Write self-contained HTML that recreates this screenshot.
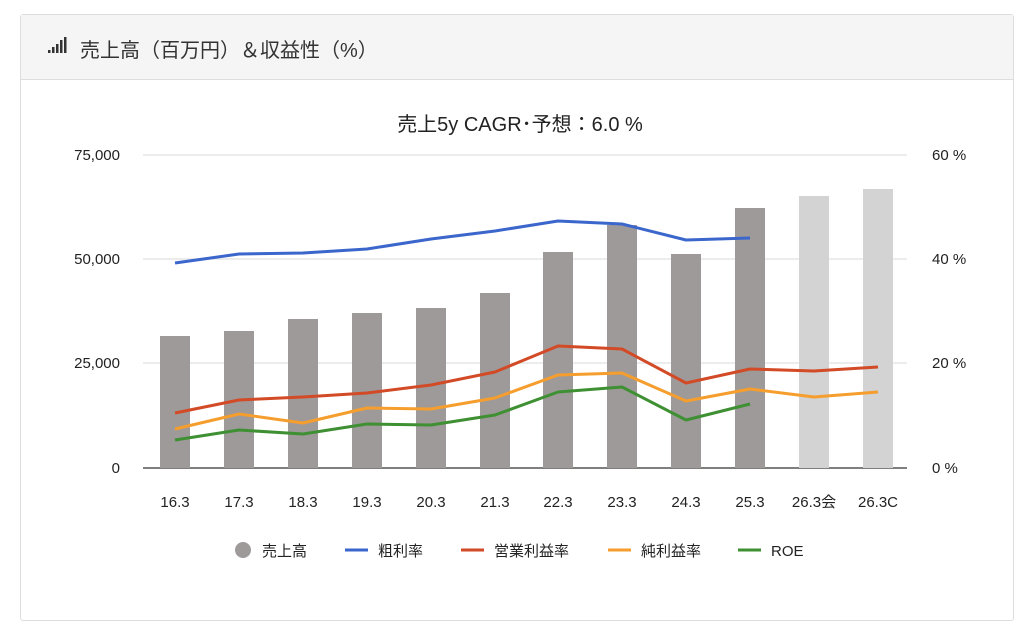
<!DOCTYPE html>
<html><head><meta charset="utf-8"><style>
body{margin:0;width:1024px;height:628px;background:#fff;font-family:"Liberation Sans","Noto Sans CJK JP",sans-serif;overflow:hidden}
.card{position:absolute;left:20px;top:14px;width:994px;height:607px;border:1px solid #ddd;border-radius:3px;box-sizing:border-box}
.hdr{height:64px;background:#f5f5f5;border-bottom:1px solid #ddd;}
.hdr span{position:absolute;left:59px;top:19px;font-size:20px;color:#333}
</style></head><body>
<div class="card"><div class="hdr"><span>売上高（百万円）＆収益性（%）</span></div></div>
<svg width="1024" height="628" style="position:absolute;left:0;top:0">
<g fill="#333"><rect x="48" y="50" width="2.5" height="3"/><rect x="52" y="47" width="2.5" height="6"/><rect x="56" y="44" width="2.5" height="9"/><rect x="60" y="40" width="2.5" height="13"/><rect x="64" y="37" width="2.5" height="16"/></g>
<text x="520" y="131" text-anchor="middle" font-size="20" fill="#222">売上5y CAGR･予想：6.0 %</text>
<g stroke="#e6e6e6" stroke-width="1.5"><line x1="143" y1="155" x2="907" y2="155"/><line x1="143" y1="259" x2="907" y2="259"/><line x1="143" y1="363" x2="907" y2="363"/></g>
<line x1="143" y1="468" x2="907" y2="468" stroke="#333" stroke-width="1.2"/>
<g font-size="15" fill="#222" text-anchor="end"><text x="120" y="160">75,000</text><text x="120" y="264">50,000</text><text x="120" y="368">25,000</text><text x="120" y="473">0</text></g>
<g font-size="15" fill="#222"><text x="932" y="160">60 %</text><text x="932" y="264">40 %</text><text x="932" y="368">20 %</text><text x="932" y="473">0 %</text></g>
<g fill="#9e9a9a">
<rect x="160" y="336" width="30" height="132"/><rect x="224" y="331" width="30" height="137"/><rect x="288" y="319" width="30" height="149"/><rect x="352" y="313" width="30" height="155"/><rect x="416" y="308" width="30" height="160"/><rect x="480" y="293" width="30" height="175"/><rect x="543" y="252" width="30" height="216"/><rect x="607" y="225" width="30" height="243"/><rect x="671" y="254" width="30" height="214"/><rect x="735" y="208" width="30" height="260"/></g>
<g fill="#d3d3d3"><rect x="799" y="196" width="30" height="272"/><rect x="863" y="189" width="30" height="279"/></g>
<g fill="none" stroke-width="3" stroke-linejoin="round">
<polyline stroke="#3b66cc" points="175,263 239,254 303,253 367,249 431,239 495,231 558,221 622,224 686,240 750,238"/>
<polyline stroke="#d24a26" points="175,413 239,400 303,397 367,393 431,385 495,372 558,346 622,349 686,383 750,369 814,371 878,367"/>
<polyline stroke="#f59e2e" points="175,429 239,414 303,423 367,408 431,409 495,398 558,375 622,373 686,401 750,389 814,397 878,392"/>
<polyline stroke="#3f9033" points="175,440 239,430 303,434 367,424 431,425 495,415 558,392 622,387 686,420 750,404"/>
</g>
<g font-size="15" fill="#222" text-anchor="middle">
<text x="175" y="507">16.3</text><text x="239" y="507">17.3</text><text x="303" y="507">18.3</text><text x="367" y="507">19.3</text><text x="431" y="507">20.3</text><text x="495" y="507">21.3</text><text x="558" y="507">22.3</text><text x="622" y="507">23.3</text><text x="686" y="507">24.3</text><text x="750" y="507">25.3</text><text x="814" y="507">26.3会</text><text x="878" y="507">26.3C</text></g>
<g font-size="15" fill="#222">
<circle cx="243" cy="550" r="8" fill="#9e9a9a"/><text x="262" y="556">売上高</text>
<line x1="345" y1="550" x2="368" y2="550" stroke="#3b66cc" stroke-width="3"/><text x="378" y="556">粗利率</text>
<line x1="461" y1="550" x2="484" y2="550" stroke="#d24a26" stroke-width="3"/><text x="494" y="556">営業利益率</text>
<line x1="608" y1="550" x2="631" y2="550" stroke="#f59e2e" stroke-width="3"/><text x="641" y="556">純利益率</text>
<line x1="738" y1="550" x2="761" y2="550" stroke="#3f9033" stroke-width="3"/><text x="771" y="556">ROE</text></g>
</svg>
</body></html>
